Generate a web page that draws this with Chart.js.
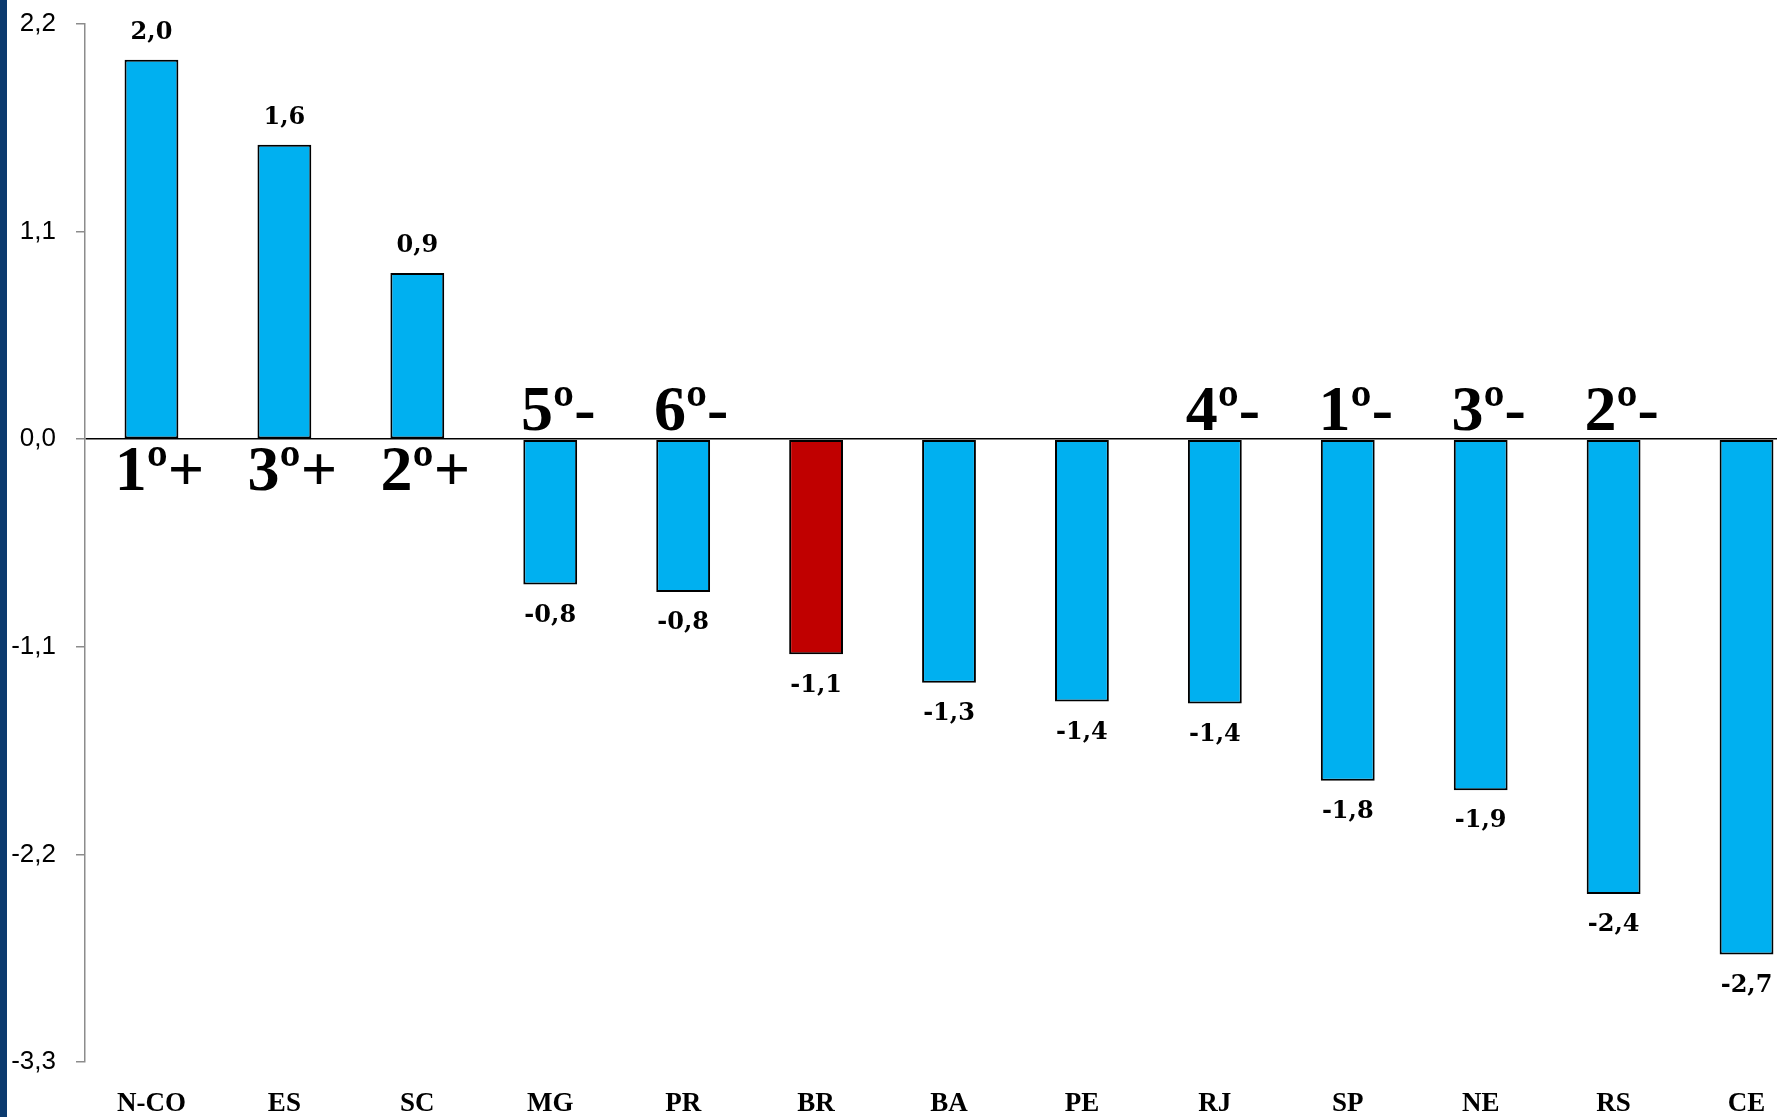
<!DOCTYPE html>
<html lang="pt">
<head>
<meta charset="UTF-8">
<title>Variação por região</title>
<script src="https://cdn.jsdelivr.net/npm/chart.js"></script>
<style>
    html, body { margin: 0; padding: 0; background: #fff; overflow: hidden; }
    #wrap { position: relative; width: 1777px; height: 1117px; overflow: hidden; }
    #strip { position: absolute; left: 0; top: 0; width: 7px; height: 1117px; background: #0B3A6E; z-index: 2; }
    canvas { position: absolute; left: 0; top: 0; }
</style>
</head>
<body>
<div id="wrap">
    <div id="strip"></div>
    <canvas id="chart" width="1813" height="1117"></canvas>
</div>
<script>
    const categories = ['N-CO', 'ES', 'SC', 'MG', 'PR', 'BR', 'BA', 'PE', 'RJ', 'SP', 'NE', 'RS', 'CE'];
    const values = [2.01, 1.56, 0.88, -0.77, -0.81, -1.14, -1.29, -1.39, -1.40, -1.81, -1.86, -2.41, -2.73];
    const ranks = ['1º+', '3º+', '2º+', '5º-', '6º-', '', '', '', '4º-', '1º-', '3º-', '2º-', ''];
    const yTicks = [2.2, 1.1, 0.0, -1.1, -2.2, -3.3];
    const highlight = 'BR';

    const fmt = v => v.toFixed(1).replace('.', ',');

    // value labels on the bars and the rank marks at the zero line
    const labelsPlugin = {
        id: 'barLabels',
        afterDatasetsDraw(chart) {
            const ctx = chart.ctx;
            const meta = chart.getDatasetMeta(0);
            const y0 = chart.scales.y.getPixelForValue(0);
            ctx.save();
            ctx.fillStyle = '#000';
            ctx.textAlign = 'center';
            meta.data.forEach((bar, i) => {
                const v = values[i];
                ctx.font = 'bold 24px "DejaVu Serif"';
                ctx.textBaseline = 'middle';
                if (v >= 0) {
                    ctx.fillText(fmt(v), bar.x, bar.y - 27);
                } else {
                    ctx.fillText(fmt(v), bar.x, bar.y + 31);
                }
                const r = ranks[i];
                if (!r) return;
                ctx.font = 'bold 64px "Liberation Serif"';
                ctx.textBaseline = 'alphabetic';
                const x = chart.scales.x.getPixelForValue(i) + 8;
                if (r.endsWith('+')) {
                    ctx.fillText(r, x, y0 + 51);
                } else {
                    ctx.fillText(r, x, y0 - 9);
                }
            });
            ctx.restore();
        }
    };

    new Chart(document.getElementById('chart'), {
        type: 'bar',
        data: {
            labels: categories,
            datasets: [{
                data: values,
                backgroundColor: categories.map(c => c === highlight ? '#C00000' : '#00B0F0'),
                borderColor: '#000',
                borderWidth: 2,
                borderSkipped: false,
                barPercentage: 0.405,
                categoryPercentage: 1.0
            }]
        },
        options: {
            responsive: false,
            animation: false,
            devicePixelRatio: 1,
            layout: { padding: { top: 24, right: 0, bottom: 0, left: 0 } },
            plugins: {
                legend: { display: false },
                tooltip: { enabled: false }
            },
            scales: {
                x: {
                    grid: { display: false },
                    border: { display: false },
                    ticks: {
                        color: '#000',
                        padding: 18,
                        font: { family: '"Liberation Serif"', size: 27, weight: 'bold' }
                    },
                    afterFit(scale) { scale.height = 55; }
                },
                y: {
                    min: -3.3,
                    max: 2.2,
                    afterBuildTicks(scale) {
                        scale.ticks = yTicks.map(v => ({ value: v }));
                    },
                    border: { display: true, color: '#8C8C8C', width: 1.5 },
                    grid: {
                        drawOnChartArea: true,
                        drawTicks: true,
                        tickLength: 9,
                        tickColor: '#8C8C8C',
                        color: ctx => (ctx.tick && ctx.tick.value === 0) ? '#000' : 'rgba(0,0,0,0)',
                        lineWidth: 1.5
                    },
                    ticks: {
                        color: '#000',
                        padding: 20,
                        font: { family: '"Liberation Sans"', size: 26 },
                        callback: v => fmt(v)
                    },
                    afterFit(scale) {
                        scale.width = 85;
                        // tick padding should not push the plot down
                        scale.paddingTop = 0;
                        scale.paddingBottom = 0;
                    }
                }
            }
        },
        plugins: [labelsPlugin]
    });
</script>
</body>
</html>
